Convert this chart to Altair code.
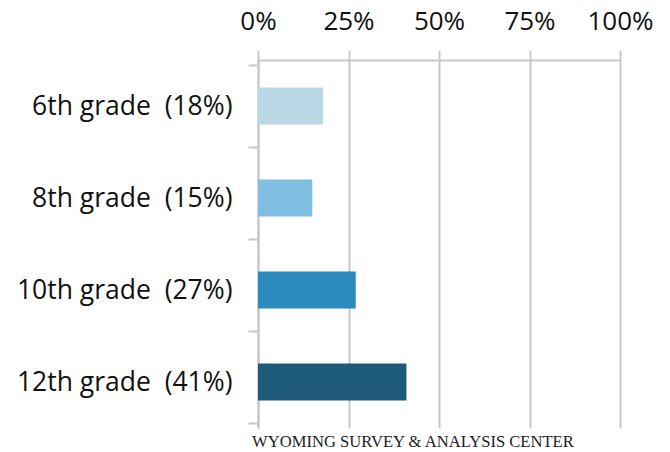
import altair as alt
import pandas as pd

grades = ["6th grade", "8th grade", "10th grade", "12th grade"]
values = [18, 15, 27, 41]
colors = ["#bad8e5", "#80bfe2", "#2b8bbf", "#1f5a7b"]
x_ticks = [0, 25, 50, 75, 100]
footer = "WYOMING SURVEY & ANALYSIS CENTER"

labels = [f"{g}\u00a0 ({v}%)" for g, v in zip(grades, values)]
df = pd.DataFrame({"label": labels, "value": values, "color": colors})

chart = alt.Chart(df).mark_bar(size=37).encode(
    x=alt.X("value:Q",
            scale=alt.Scale(domain=[0, 100], nice=False),
            axis=alt.Axis(orient="top", values=x_ticks, labelExpr="datum.value + '%'",
                          title=None, grid=True, gridColor="#c8c8c8", gridWidth=2,
                          domainColor="#c8c8c8", domainWidth=2,
                          tickColor="#c8c8c8", tickWidth=2, tickSize=10,
                          labelFont="Open Sans", labelFontSize=26, labelColor="#111111",
                          labelFlush=False, labelOverlap=False,
                          labelPadding=16)),
    y=alt.Y("label:N", sort=labels,
            axis=alt.Axis(title=None, tickBand="extent", tickColor="#c8c8c8", tickWidth=2,
                          tickSize=10, domainColor="#c8c8c8", domainWidth=2,
                          labelFont="Open Sans", labelFontSize=26.5, labelColor="#111111",
                          labelPadding=16, labelLimit=400)),
    color=alt.Color("color:N", scale=None),
).properties(
    width=362, height=368,
    title=alt.TitleParams(footer, orient="bottom", anchor="start", frame="group",
                          font="Liberation Serif",
                          fontSize=16.6, fontWeight="normal", color="#222222", offset=6, dx=-6),
    autosize=alt.AutoSizeParams(type="none"),
    padding={"left": 250, "top": 52, "right": 40, "bottom": 24},
).configure_view(stroke=None)

chart.save("out.html", embed_options={"renderer": "svg", "actions": False})
